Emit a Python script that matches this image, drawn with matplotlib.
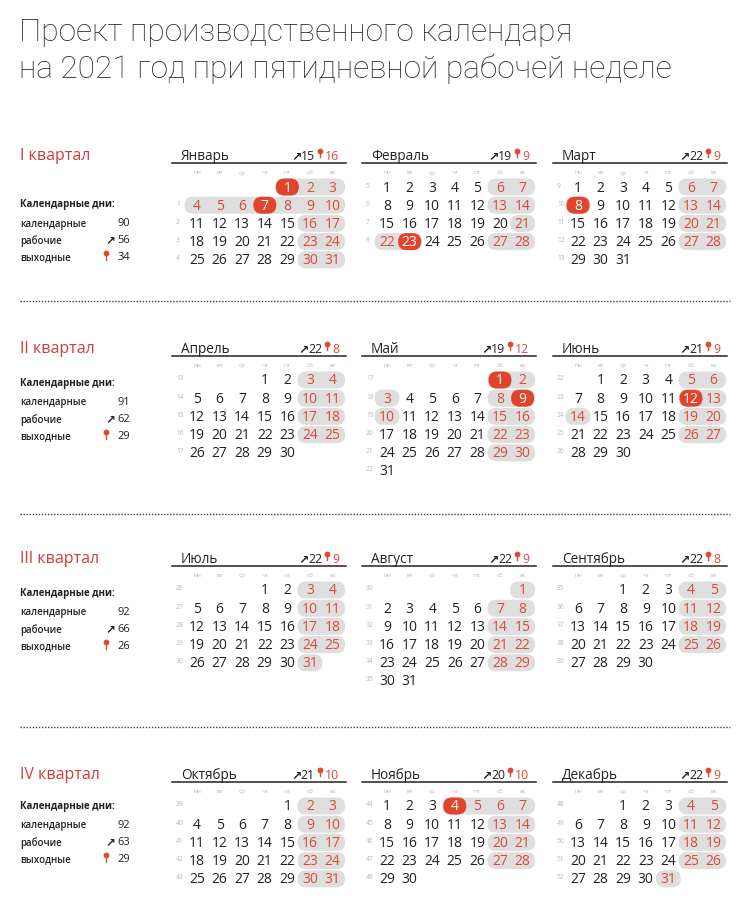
# plot.py
# Production calendar 2021 (five-day week) drawn on a pixel-grid axes.
import calendar
import datetime as dt

import matplotlib.pyplot as plt
from matplotlib.patches import FancyBboxPatch

# --- Data ---
YEAR = 2021
MONTHS = ["Январь", "Февраль", "Март", "Апрель", "Май", "Июнь",
          "Июль", "Август", "Сентябрь", "Октябрь", "Ноябрь", "Декабрь"]
WORK_DAYS = [15, 19, 22, 22, 19, 21, 22, 22, 22, 21, 20, 22]
OFF_DAYS = [16, 9, 9, 8, 12, 9, 9, 9, 8, 10, 10, 9]
WEEKDAYS = ["пн", "вт", "ср", "чт", "пт", "сб", "вс"]

# public holidays (red pills) and extra days off / working weekends
HOLIDAYS = {1: [1, 7], 2: [23], 3: [8], 5: [1, 9], 6: [12], 11: [4]}
EXTRA_OFF = {1: [4, 5, 6, 8], 2: [22], 5: [3, 10], 6: [14], 11: [5], 12: [31]}
WORKING_WEEKENDS = {2: [20]}

QUARTERS = ["I квартал", "II квартал", "III квартал", "IV квартал"]
Q_CALENDAR = [90, 91, 92, 92]
Q_WORK = [56, 62, 66, 63]
Q_OFF = [34, 29, 26, 29]

TITLE = ["Проект производственного календаря",
         "на 2021 год при пятидневной рабочей неделе"]

# --- Layout (pixels) ---
COL_X = [172, 362, 553]
COL_W = 174
UNDERLINE_Y = [164, 357, 567, 783]
LEFT_Y0 = [41, 27, 27, 24]
SEP_Y = [302, 515, 728]
DAY_DX = 22.6
ROW_DY = 18.2

RED = "#dd4a36"
RED_FILL = "#e0452b"
GREY_FILL = "#dedede"
DARK = "#222222"
LIGHT = "#b8b8b8"

NUM_FONT = "Open Sans"
TXT_FONT = "Open Sans"

fig = plt.figure(figsize=(7.5, 9.2), dpi=100)
ax = fig.add_axes([0, 0, 1, 1])
ax.set_xlim(0, 750)
ax.set_ylim(920, 0)
ax.axis("off")


def pill(x0, x1, yc, h, color, z=1):
    ax.add_patch(FancyBboxPatch((x0, yc - h / 2), x1 - x0, h,
                                boxstyle=f"round,pad=0,rounding_size={h / 2}",
                                linewidth=0, facecolor=color, zorder=z))


def pin(x, y, size=4.2):
    ax.plot([x, x], [y - 1, y + 4], color=RED, linewidth=1.0, zorder=3)
    ax.plot(x, y - 2.5, marker="o", markersize=size, color=RED,
            markeredgewidth=0, zorder=4)


def header_stats(x_right, y, work, off, size=8.8):
    r = fig.canvas.get_renderer()
    t_off = ax.text(x_right, y, str(off), ha="right", va="baseline",
                    fontsize=size, color=RED, family=NUM_FONT)
    bb = t_off.get_window_extent(r)
    x_left = bb.x0  # pixel == data x
    pin(x_left - 5, y - 6)
    t_w = ax.text(x_left - 10, y, str(work), ha="right", va="baseline",
                  fontsize=size, color=DARK, family=NUM_FONT)
    bb2 = t_w.get_window_extent(r)
    ax.text(bb2.x0 + 0.5, y, "↗", ha="right", va="baseline", fontsize=size,
            color=DARK, family="DejaVu Sans", fontweight="bold")


# title
for i, line in enumerate(TITLE):
    ax.text(19, 41 + 37 * i, line, fontsize=22.8, color="#2a2a2a",
            family="Roboto", fontweight="light", va="baseline")

# separators
for y in SEP_Y:
    ax.plot([20, 730], [y, y], color="#444444", linewidth=1.0,
            linestyle=(0, (1, 1.2)))

for q in range(4):
    uy = UNDERLINE_Y[q]
    # left panel
    ax.text(20, uy - 4, QUARTERS[q], fontsize=11.5, color="#cf3d3a",
            family=TXT_FONT, va="baseline")
    ly = uy + LEFT_Y0[q]
    ax.text(20, ly, "Календарные дни:", fontsize=7, color=DARK,
            family=TXT_FONT, fontweight="bold", va="center")
    labels = ["календарные", "рабочие", "выходные"]
    vals = [Q_CALENDAR[q], Q_WORK[q], Q_OFF[q]]
    for k in range(3):
        yy = ly + 19 + 16.8 * k
        ax.text(20, yy, labels[k], fontsize=7, color=DARK,
                family=TXT_FONT, fontweight="semibold", va="center")
        ax.text(130, yy, str(vals[k]), fontsize=8, color=DARK,
                family=TXT_FONT, ha="right", va="center")
        if k == 1:
            ax.text(115, yy, "↗", fontsize=8.5, color=DARK, ha="right",
                    va="center", family="DejaVu Sans", fontweight="bold")
        if k == 2:
            pin(106, yy - 1, size=4.2)

    for c in range(3):
        m = q * 3 + c + 1
        x0 = COL_X[c]
        x1 = x0 + COL_W
        # header
        ax.text(x0 + 9, uy - 4, MONTHS[m - 1], fontsize=9.8, color=DARK,
                family=TXT_FONT, va="baseline")
        ax.plot([x0, x1], [uy, uy], color="#222222", linewidth=1.1)
        header_stats(x1 - 7, uy - 4, WORK_DAYS[m - 1], OFF_DAYS[m - 1])
        for d, wd in enumerate(WEEKDAYS):
            ax.text(x0 + 25 + DAY_DX * d, uy + 9, wd, fontsize=4.6,
                    color=LIGHT, ha="center", va="center", family=TXT_FONT)

        hol = HOLIDAYS.get(m, [])
        extra = EXTRA_OFF.get(m, [])
        work_we = WORKING_WEEKENDS.get(m, [])
        weeks = calendar.monthcalendar(YEAR, m)
        for r, week in enumerate(weeks):
            yc = uy + 24 + ROW_DY * r
            first = next(d for d in week if d)
            wk = dt.date(YEAR, m, first).isocalendar().week
            if wk != 53:
                ax.text(x0 + 4, yc - 2, str(wk), fontsize=4.8, color=LIGHT,
                        ha="left", va="center", family=TXT_FONT)
            off_flags = []
            for wd, d in enumerate(week):
                is_off = d != 0 and ((wd >= 5 and d not in work_we)
                                     or d in hol or d in extra)
                off_flags.append(is_off)
            # grey runs of days off
            wd = 0
            while wd < 7:
                if off_flags[wd]:
                    s = wd
                    while wd < 7 and off_flags[wd]:
                        wd += 1
                    e = wd - 1
                    pill(x0 + 25 + DAY_DX * s - 12.5,
                         x0 + 25 + DAY_DX * e + 12.5, yc, 17, GREY_FILL)
                else:
                    wd += 1
            for wd, d in enumerate(week):
                if not d:
                    continue
                xc = x0 + 25 + DAY_DX * wd
                if d in hol:
                    pill(xc - 11.5, xc + 11.5, yc, 17, RED_FILL, z=2)
                    color = "white"
                elif off_flags[wd]:
                    color = RED
                else:
                    color = DARK
                ax.text(xc, yc, str(d), fontsize=10, color=color,
                        ha="center", va="center", family=NUM_FONT,
                        fontweight="medium", zorder=5)

fig.savefig("out.png", dpi=100)
